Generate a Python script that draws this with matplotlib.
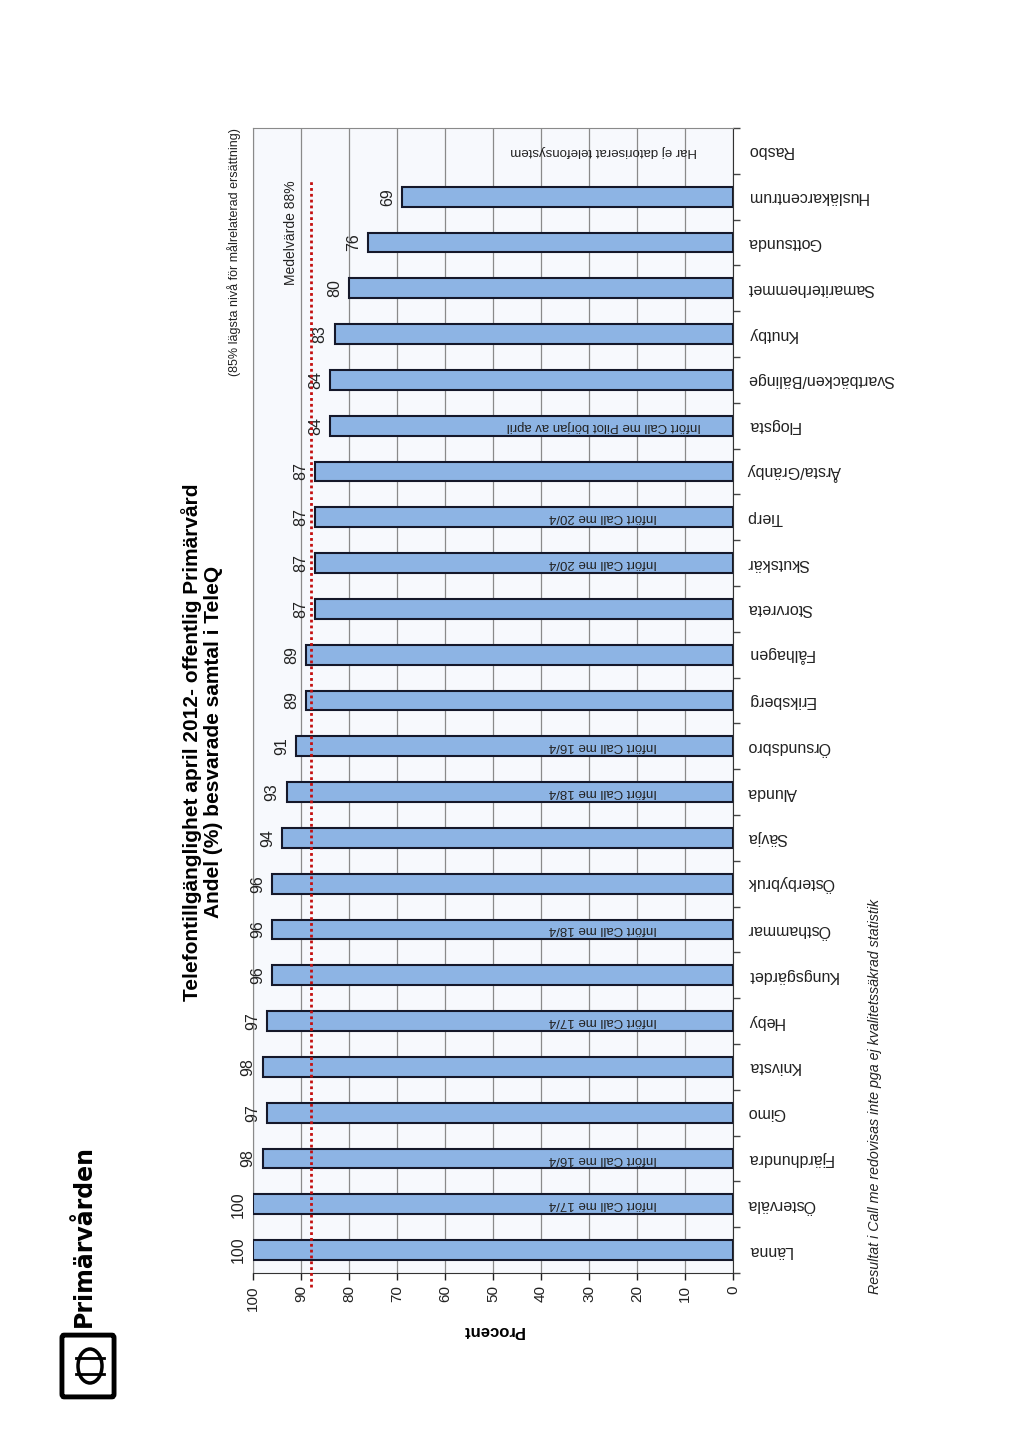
#!/usr/bin/env python3
"""Telefontillgänglighet april 2012 - rotated scanned bar chart."""

import matplotlib

matplotlib.use("Agg")
import matplotlib.pyplot as plt  # noqa: E402
from matplotlib.patches import FancyBboxPatch, Ellipse  # noqa: E402
from matplotlib.lines import Line2D  # noqa: E402
from matplotlib.transforms import blended_transform_factory  # noqa: E402

plt.rcParams["font.family"] = ["Liberation Sans", "DejaVu Sans"]

# ---------------------------------------------------------------------------
# Data
# ---------------------------------------------------------------------------
categories = [
    "Länna", "Österväla", "Fjärdhundra", "Gimo", "Knivsta", "Heby",
    "Kungsgärdet", "Östhammar", "Österbybruk", "Sävja", "Alunda",
    "Örsundsbro", "Eriksberg", "Fålhagen", "Storvreta", "Skutskär", "Tierp",
    "Årsta/Gränby", "Flogsta", "Svartbäcken/Bälinge", "Knutby",
    "Samariterhemmet", "Gottsunda", "Husläkarcentrum", "Rasbo",
]
values = [100, 100, 98, 97, 98, 97, 96, 96, 96, 94, 93, 91, 89, 89,
          87, 87, 87, 87, 84, 84, 83, 80, 76, 69, None]
notes = {
    "Österväla": "Infört Call me 17/4",
    "Fjärdhundra": "Infört Call me 16/4",
    "Heby": "Infört Call me 17/4",
    "Östhammar": "Infört Call me 18/4",
    "Alunda": "Infört Call me 18/4",
    "Örsundsbro": "Infört Call me 16/4",
    "Skutskär": "Infört Call me 20/4",
    "Tierp": "Infört Call me 20/4",
    "Flogsta": "Infört Call me Pilot början av april",
    "Rasbo": "Har ej datoriserat telefonsystem",
}
mean_value = 88
value_ticks = list(range(0, 101, 10))

W, H = 1024, 1450


def fx(x):
    return x / W


def fy(y):
    return 1 - y / H


# ---------------------------------------------------------------------------
# Figure
# ---------------------------------------------------------------------------
fig = plt.figure(figsize=(W / 100, H / 100), dpi=100)
fig.patch.set_facecolor("white")
ax = fig.add_axes([fx(253), fy(1273), fx(733) - fx(253), fy(128) - fy(1273)])
ax.set_facecolor("#f7f9fd")

ypos = list(range(len(categories)))
for i, v in enumerate(values):
    if v is None:
        continue
    ax.barh(i, v, height=0.43, color="#8db4e4", edgecolor="#15182a",
            linewidth=1.5, zorder=3)
    ax.annotate(f"{v}", xy=(v, i), xytext=(-5, 0), textcoords="offset points",
                rotation=90, ha="right", va="center", fontsize=11.5,
                color="#222222")

for i, cat in enumerate(categories):
    if cat in notes:
        ax.text(27, i, notes[cat], rotation=180, ha="center", va="center",
                fontsize=9.5, color="#222222", zorder=4)

ax.set_xlim(0, 100)
ax.invert_xaxis()
ax.set_ylim(-0.5, len(categories) - 0.5)

ax.set_xticks(value_ticks)
ax.set_xticklabels([str(t) for t in value_ticks], rotation=90, fontsize=11)
ax.tick_params(axis="x", direction="out", length=5, width=1, pad=4,
               colors="#222222")
ax.grid(axis="x", color="#8a8a8a", linewidth=0.9, zorder=0)
ax.set_axisbelow(True)

ax.yaxis.tick_right()
ax.set_yticks(ypos)
ax.set_yticklabels(categories, rotation=180, fontsize=11.5, va="center")
ax.set_yticks([p + 0.5 for p in range(-1, len(categories))], minor=True)
ax.tick_params(axis="y", which="major", length=0, pad=10, colors="#222222")
ax.tick_params(axis="y", which="minor", direction="out", length=5, width=1,
               color="#444444")

for side in ("left", "top"):
    ax.spines[side].set_color("#8a8a8a")
ax.spines["right"].set_color("#333333")
ax.spines["bottom"].set_color("#333333")

# Mean line
trans = blended_transform_factory(ax.transData, ax.transAxes)
ax.plot([mean_value, mean_value], [-0.012, 0.955], transform=trans,
        color="#c41010", linestyle=(0, (1, 1.1)), linewidth=2.0,
        clip_on=False, zorder=5)
fig.text(fx(291), fy(180), f"Medelvärde {mean_value}%", rotation=90,
         ha="center", va="top", fontsize=10, color="#222222")

# Titles and notes
fig.text(fx(202), fy(742),
         "Telefontillgänglighet april 2012- offentlig Primärvård\n"
         "Andel (%) besvarade samtal i TeleQ",
         rotation=90, ha="center", va="center", fontsize=15,
         fontweight="bold", multialignment="center", linespacing=1.15)
fig.text(fx(234), fy(128), "(85% lägsta nivå för målrelaterad ersättning)",
         rotation=90, ha="center", va="top", fontsize=9, color="#222222")
fig.text(fx(493), fy(1331), "Procent", rotation=180, ha="center",
         va="center", fontsize=12, fontweight="bold")
fig.text(fx(875), fy(1294),
         "Resultat i Call me redovisas inte pga ej kvalitetssäkrad statistik",
         rotation=90, ha="center", va="bottom", fontsize=10.3, style="italic",
         color="#222222")

# Logo
fig.text(fx(84), fy(1327), "Primärvården", rotation=90, ha="center",
         va="bottom", fontsize=17, fontweight="bold",
         family=["Liberation Sans Narrow", "DejaVu Sans"])
logo = FancyBboxPatch((fx(64), fy(1394)), fx(48), fy(1338) - fy(1394),
                      boxstyle="round,pad=0.002", transform=fig.transFigure,
                      facecolor="none", edgecolor="black", linewidth=3.5)
fig.add_artist(logo)
fig.add_artist(Ellipse((fx(90), fy(1366)), fx(24), fy(0) - fy(34),
                       transform=fig.transFigure, facecolor="none",
                       edgecolor="black", linewidth=2.5))
for yy in (1358, 1374):
    fig.add_artist(Line2D([fx(76), fx(104)], [fy(yy), fy(yy)],
                          transform=fig.transFigure, color="black",
                          linewidth=2.0))

fig.savefig("out.png", dpi=100, facecolor=fig.get_facecolor())
